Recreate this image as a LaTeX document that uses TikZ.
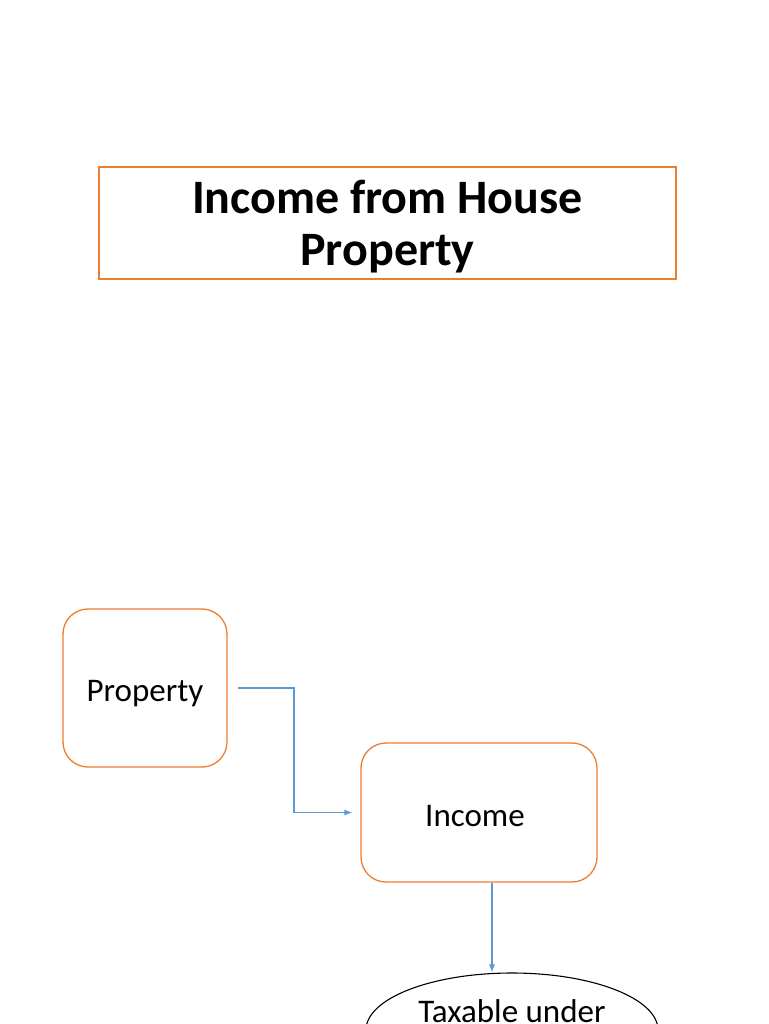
\documentclass[tikz,border=0pt]{standalone}
\usepackage{fontspec}
\setmainfont{Carlito}
\usepackage{xcolor}
\usetikzlibrary{shapes.geometric, positioning, calc, arrows.meta}
\definecolor{boxorange}{HTML}{ED7D31}
\definecolor{linkblue}{HTML}{5B9BD5}
\tikzset{
  titlebox/.style={draw=boxorange, line width=1.1pt, minimum width=577pt, minimum height=112pt, align=center, inner sep=0pt, text depth=0pt, font=\fontsize{48}{52}\selectfont\bfseries},
  stepbox/.style={draw=boxorange, line width=1.3pt, rounded corners=25pt, inner sep=0pt, text height=27pt, text depth=0pt, font=\fontsize{33}{38}\selectfont},
  taxshape/.style={draw=black, line width=1.1pt, ellipse, minimum width=292pt, minimum height=114pt, inner sep=0pt},
  link/.style={draw=linkblue, line width=1.1pt, -{Latex[length=8pt,width=6pt]}}
}
\begin{document}
\begin{tikzpicture}[x=1pt, y=-1pt]
				  \useasboundingbox (0,0) rectangle (768,1024);
				  \clip (0,0) rectangle (768,1024);
				  \fill[white] (0,0) rectangle (768,1024);
				  \node[titlebox] (title) at (387.5,223) {Income from House\\Property};
				  \node[stepbox, minimum width=164pt, minimum height=158pt] (prop) at (145,688) {Property};
				  \node[stepbox, minimum width=236pt, minimum height=139pt] (inc) at (479,812.5) {\hspace*{-8pt}Income};
				  \node[taxshape] (tax) at (512,1030) {};
				  \node[font=\fontsize{33}{38}\selectfont] (taxtext) at (512,1011) {Taxable under};
				  \coordinate (bend) at ($(prop.east)!0.5!(inc.west)$);
				  \draw[link, shorten <=10pt, shorten >=8pt] (prop.east) -| (bend) |- (inc.west);
				  \draw[link] ([xshift=13pt]inc.south) -- ([xshift=13pt]inc.south |- tax.north);
				\end{tikzpicture}
\end{document}
